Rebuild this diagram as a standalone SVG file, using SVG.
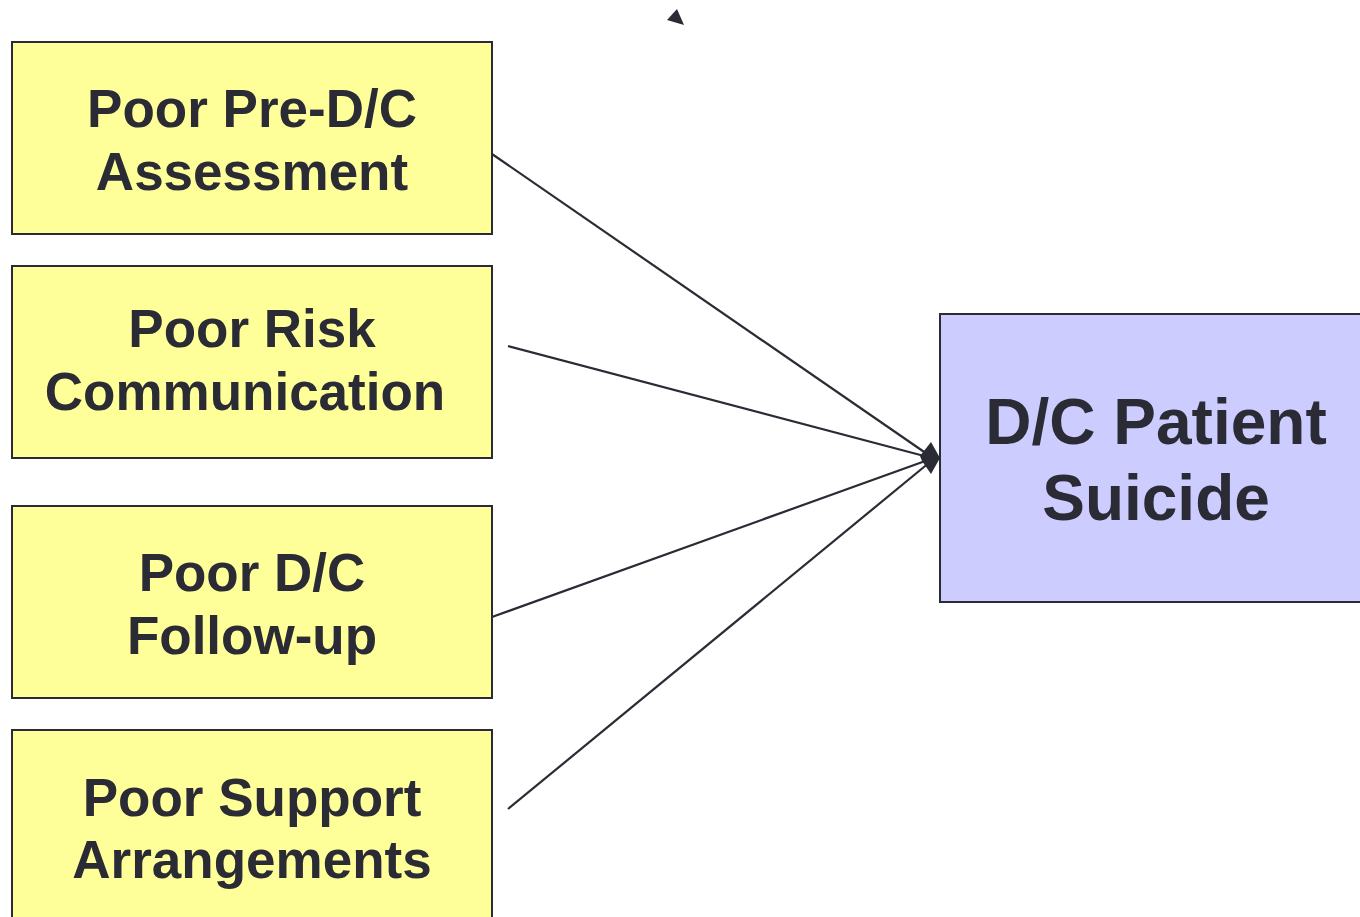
<svg xmlns="http://www.w3.org/2000/svg" width="1360" height="917" viewBox="0 0 1360 917">
<style>
.cause{fill:#FFFF99;stroke:#2b2b36;stroke-width:2}
.effect{fill:#CCCCFF;stroke:#2b2b36;stroke-width:2}
text{font-family:"Liberation Sans",Arial,sans-serif;font-weight:bold;fill:#2b2b36;text-anchor:middle}
.t1{font-size:53px}
.t2{font-size:64px}
.conn line{stroke:#2b2b36;stroke-width:2.2}
</style>
<rect width="1360" height="917" fill="#ffffff"/>
<g id="node-assessment">
<rect class="cause" x="12" y="42" width="480" height="192"/>
<text class="t1" x="252" y="127">Poor Pre-D/C</text>
<text class="t1" x="252" y="190">Assessment</text>
</g>
<g id="node-risk">
<rect class="cause" x="12" y="266" width="480" height="192"/>
<text class="t1" x="252" y="347">Poor Risk</text>
<text class="t1" x="245" y="410">Communication</text>
</g>
<g id="node-followup">
<rect class="cause" x="12" y="506" width="480" height="192"/>
<text class="t1" x="252" y="591">Poor D/C</text>
<text class="t1" x="252" y="654">Follow-up</text>
</g>
<g id="node-support">
<rect class="cause" x="12" y="730" width="480" height="200"/>
<text class="t1" x="252" y="816">Poor Support</text>
<text class="t1" x="252" y="878">Arrangements</text>
</g>
<g id="node-suicide">
<rect class="effect" x="940" y="314" width="430" height="288"/>
<text class="t2" x="1156" y="444">D/C Patient</text>
<text class="t2" x="1156" y="520">Suicide</text>
</g>
<g id="connectors" class="conn">
<line x1="492" y1="154" x2="930" y2="456"/>
<line x1="508" y1="346" x2="928" y2="457"/>
<line x1="492" y1="617" x2="928" y2="460"/>
<line x1="508" y1="809" x2="930" y2="462"/>
<polygon points="940,458 931,442 920,456 922,461 931,474" fill="#2b2b36"/>
<polygon points="667,20 677,9 684,25" fill="#2b2b36"/>
</g>
</svg>
